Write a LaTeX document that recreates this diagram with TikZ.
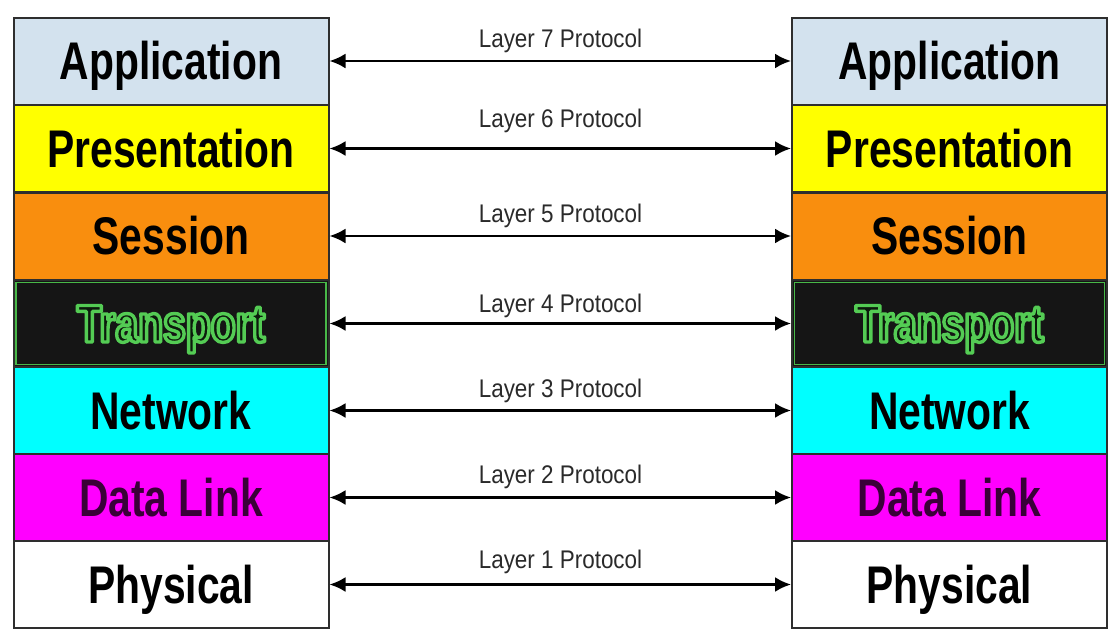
\documentclass[tikz,border=0pt]{standalone}
\usepackage{fontspec}
\setmainfont{Liberation Sans}
\newfontfamily\layerfont[FakeStretch=0.77]{Liberation Sans}
\newfontfamily\protofont[FakeStretch=0.88]{Liberation Sans}
\usetikzlibrary{arrows.meta}
\definecolor{appblue}{HTML}{D3E2EE}
\definecolor{presyellow}{HTML}{FFFF00}
\definecolor{sessorange}{HTML}{F98E0E}
\definecolor{transblack}{HTML}{151515}
\definecolor{netcyan}{HTML}{00FFFF}
\definecolor{dlmagenta}{HTML}{FF00FF}
\definecolor{dltext}{HTML}{3A0038}
\definecolor{edgegray}{HTML}{2E2E2E}
\definecolor{trgreen}{HTML}{48B848}
\definecolor{trtext}{HTML}{0C1A0C}
\definecolor{prototext}{HTML}{2A2A2A}
\tikzset{
  layerbox/.style={draw=edgegray, line width=2pt, minimum width=315pt, minimum height=87pt,
     inner sep=0pt, font=\layerfont\bfseries\fontsize{53}{53}\selectfont,
     text height=37pt, text depth=0pt},
  protolabel/.style={anchor=base, inner sep=0pt, text=prototext,
     font=\protofont\fontsize{25.5}{25.5}\selectfont},
  protoarrow/.style={{Latex[length=16pt,width=15pt]}-{Latex[length=16pt,width=15pt]}, line width=2.4pt, black}
}
\newcommand{\trtxt}{{\color{trtext}\special{pdf:code q 2 Tr 3.4 w 1 j 0.33 0.80 0.33 RG}Transport\special{pdf:code 0 Tr Q}}}
\begin{document}
\begin{tikzpicture}[x=1pt,y=-1pt]
\useasboundingbox[fill=white] (0,0) rectangle (1120,643);
% left stack
\node[layerbox, fill=appblue]    (L7) at (171,61)    {Application};
\node[layerbox, fill=presyellow] (L6) at (171,148.5) {Presentation};
\node[layerbox, fill=sessorange] (L5) at (171,236)   {Session};
\node[layerbox, fill=transblack] (L4) at (171,323.5) {\trtxt};
\node[layerbox, fill=netcyan]    (L3) at (171,410.5) {Network};
\node[layerbox, fill=dlmagenta, text=dltext] (L2) at (171,497.5) {Data Link};
\node[layerbox, fill=white]      (L1) at (171,584.5) {Physical};
% right stack
\node[layerbox, fill=appblue]    (R7) at (949.5,61)    {Application};
\node[layerbox, fill=presyellow] (R6) at (949.5,148.5) {Presentation};
\node[layerbox, fill=sessorange] (R5) at (949.5,236)   {Session};
\node[layerbox, fill=transblack] (R4) at (949.5,323.5) {\trtxt};
\node[layerbox, fill=netcyan]    (R3) at (949.5,410.5) {Network};
\node[layerbox, fill=dlmagenta, text=dltext] (R2) at (949.5,497.5) {Data Link};
\node[layerbox, fill=white]      (R1) at (949.5,584.5) {Physical};
% green inner frames of transport boxes
\draw[trgreen, line width=1.6pt] ([shift={(3.5pt,-3.5pt)}]L4.north west) rectangle ([shift={(-3.5pt,3.5pt)}]L4.south east);
\draw[trgreen, line width=1.6pt] ([shift={(3.5pt,-3.5pt)}]R4.north west) rectangle ([shift={(-3.5pt,3.5pt)}]R4.south east);
% protocol arrows
\draw[protoarrow] (L7.east) -- (R7.west);
\draw[protoarrow] (L6.east) -- (R6.west);
\draw[protoarrow] (L5.east) -- (R5.west);
\draw[protoarrow] (L4.east) -- (R4.west);
\draw[protoarrow] (L3.east) -- (R3.west);
\draw[protoarrow] (L2.east) -- (R2.west);
\draw[protoarrow] (L1.east) -- (R1.west);
% protocol labels
\node[protolabel] (P7) at (560.5,47)  {Layer 7 Protocol};
\node[protolabel] (P6) at (560.5,127) {Layer 6 Protocol};
\node[protolabel] (P5) at (560.5,222) {Layer 5 Protocol};
\node[protolabel] (P4) at (560.5,312) {Layer 4 Protocol};
\node[protolabel] (P3) at (560.5,397) {Layer 3 Protocol};
\node[protolabel] (P2) at (560.5,483) {Layer 2 Protocol};
\node[protolabel] (P1) at (560.5,568) {Layer 1 Protocol};
\end{tikzpicture}
\end{document}
